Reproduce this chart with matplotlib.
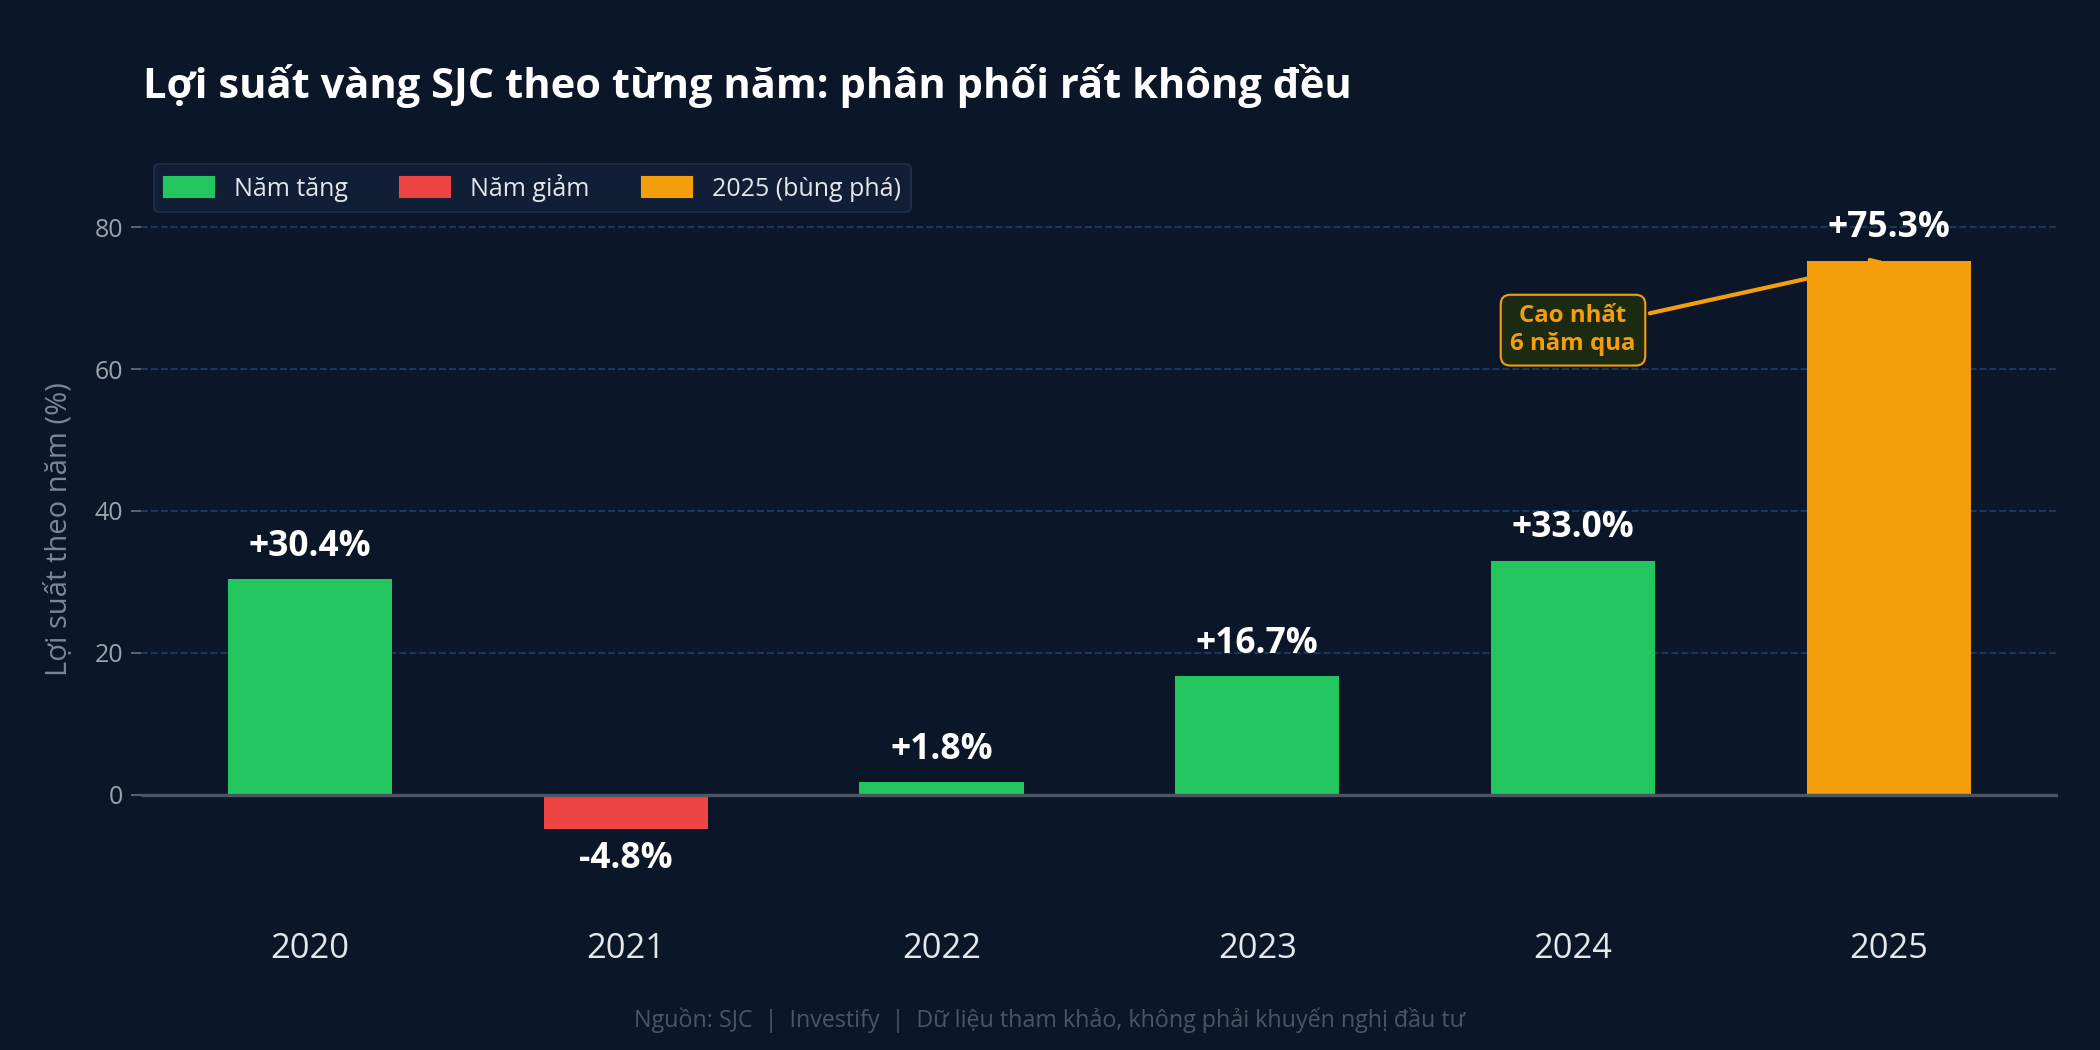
import matplotlib
matplotlib.use("Agg")
import matplotlib.pyplot as plt
from matplotlib import font_manager
from matplotlib.patches import Patch

# pick a family that actually has a bold face installed
fam = 'Noto Sans'
for cand in ['Noto Sans', 'Open Sans', 'Lato', 'Roboto']:
    bolds = [f for f in font_manager.fontManager.ttflist
             if f.name == cand and (f.weight in ('bold', 700, 600, 'semibold') or
                                    (isinstance(f.weight, int) and f.weight >= 600))]
    if bolds:
        fam = cand
        break
plt.rcParams['font.family'] = [fam, 'DejaVu Sans']

years = ['2020', '2021', '2022', '2023', '2024', '2025']
returns = [30.4, -4.8, 1.8, 16.7, 33.0, 75.3]
labels = ['+30.4%', '-4.8%', '+1.8%', '+16.7%', '+33.0%', '+75.3%']
legend_names = ['Năm tăng', 'Năm giảm', '2025 (bùng phá)']

bg = '#0b1628'
green = '#22c55e'
red = '#ef4444'
orange = '#f59e0b'

colors = []
for y, r in zip(years, returns):
    if y == '2025':
        colors.append(orange)
    elif r >= 0:
        colors.append(green)
    else:
        colors.append(red)

fig = plt.figure(figsize=(14, 7), dpi=150, facecolor=bg)
ax = fig.add_axes([0.067, 0.142, 0.913, 0.709])
ax.set_facecolor(bg)

x = list(range(len(years)))
ax.bar(x, returns, width=0.52, color=colors, zorder=3)
ax.axhline(0, color='#4b5563', lw=1.6, zorder=4)

for xi, r, lab in zip(x, returns, labels):
    if r >= 0:
        ax.text(xi, r + 2.0, lab, ha='center', va='bottom', color='white',
                fontsize=17, fontweight='bold', zorder=5)
    else:
        ax.text(xi, r - 1.8, lab, ha='center', va='top', color='white',
                fontsize=17, fontweight='bold', zorder=5)

ax.annotate('Cao nhất\n6 năm qua', xy=(5, 75.3), xytext=(4.0, 65.5),
            ha='center', va='center', color=orange, fontsize=11.5, fontweight='bold',
            bbox=dict(boxstyle='round,pad=0.4', fc='#1c2a12', ec=orange, lw=1),
            arrowprops=dict(arrowstyle='->', color=orange, lw=2), zorder=6)

ax.set_ylim(-15, 90)
ax.set_yticks([0, 20, 40, 60, 80])
ax.set_xticks(x)
ax.set_xticklabels(years)
ax.tick_params(axis='x', length=0, pad=15, labelsize=16.5, labelcolor='#e5e7eb')
ax.tick_params(axis='y', length=5, color='#6b7280', labelsize=12, labelcolor='#9ca3af')
ax.grid(axis='y', color='#1e3a5f', ls='--', lw=0.9, zorder=0)
for s in ax.spines.values():
    s.set_visible(False)

ax.set_ylabel('Lợi suất theo năm (%)', color='#7b8698', fontsize=14, labelpad=10)

handles = [Patch(color=green), Patch(color=red), Patch(color=orange)]
leg = ax.legend(handles, legend_names, loc='upper left', ncol=3, fontsize=12,
                frameon=True, facecolor='#111f36', edgecolor='#1e2d45',
                labelcolor='#e5e7eb', handlelength=2.0, handleheight=0.9,
                columnspacing=2.1, borderaxespad=0.3, bbox_to_anchor=(0.003, 1.0))
leg.get_frame().set_alpha(1)

fig.text(0.068, 0.918, 'Lợi suất vàng SJC theo từng năm: phân phối rất không đều',
         color='white', fontsize=20, fontweight='bold', va='center', ha='left')
fig.text(0.5, 0.028, 'Nguồn: SJC  |  Investify  |  Dữ liệu tham khảo, không phải khuyến nghị đầu tư',
         color='#4b5563', fontsize=11.2, ha='center', va='center')

fig.savefig('out.png', dpi=150, facecolor=bg)
